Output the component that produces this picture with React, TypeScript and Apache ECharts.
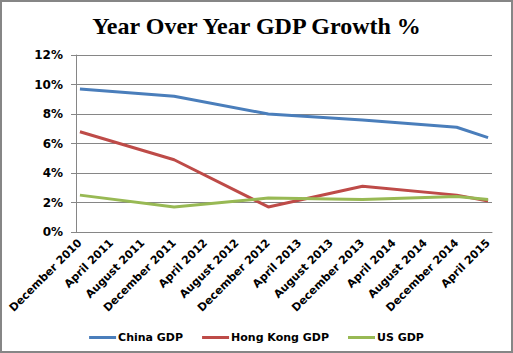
import React, { useEffect, useRef } from "react";
import * as echarts from "echarts";

const monthNames = ["January","February","March","April","May","June","July","August","September","October","November","December"];
// Monthly category axis from December 2010 to April 2015
const startYear = 2010, startMonth = 11; // December
const monthCount = 53;
const categories: string[] = [];
for (let i = 0; i < monthCount; i++) {
  const m = (startMonth + i) % 12;
  const y = startYear + Math.floor((startMonth + i) / 12);
  categories.push(`${monthNames[m]} ${y}`);
}

const obsDates = ["December 2010", "December 2011", "December 2012", "December 2013", "December 2014", "April 2015"];
const chinaGDP = [9.7, 9.2, 8.0, 7.6, 7.1, 6.4];
const hongKongGDP = [6.8, 4.9, 1.7, 3.1, 2.5, 2.1];
const usGDP = [2.5, 1.7, 2.3, 2.2, 2.4, 2.2];
const yTicks = [0, 2, 4, 6, 8, 10, 12];

function toSeries(vals: number[]) {
  const arr: (number | null)[] = categories.map(() => null);
  obsDates.forEach((d, i) => {
    const idx = categories.indexOf(d);
    if (idx >= 0) arr[idx] = vals[i];
  });
  return arr;
}

export default function App() {
  const ref = useRef<HTMLDivElement>(null);
  useEffect(() => {
    if (!ref.current) return;
    const chart = echarts.init(ref.current, null, { renderer: "svg" });
    const font = "DejaVu Sans";
    const lineSeries = (name: string, vals: number[], color: string) => ({
      name,
      type: "line",
      data: toSeries(vals),
      connectNulls: true,
      showSymbol: false,
      symbol: "none",
      lineStyle: { width: 3, color },
      itemStyle: { color },
    });
    chart.setOption({
      animation: false,
      backgroundColor: "#ffffff",
      title: {
        text: "Year Over Year GDP Growth %",
        left: "center",
        top: 9,
        textStyle: { fontFamily: "Liberation Serif", fontWeight: "bold", fontSize: 24, color: "#000" },
      },
      graphic: [
        {
          type: "rect",
          shape: { x: 1, y: 1, width: 511, height: 351 },
          style: { fill: "none", stroke: "#868686", lineWidth: 2 },
          z: 100,
        },
      ],
      legend: {
        left: "center",
        top: 327,
        icon: "rect",
        itemWidth: 27,
        itemHeight: 3,
        itemGap: 19,
        textStyle: { fontFamily: font, fontWeight: "bold", fontSize: 11, color: "#000", padding: [0, 0, 0, -3] },
        data: ["China GDP", "Hong Kong GDP", "US GDP"],
      },
      grid: { left: 76, right: 21, top: 55, bottom: 121 },
      xAxis: {
        type: "category",
        data: categories,
        boundaryGap: true,
        axisLine: { lineStyle: { color: "#868686", width: 1 } },
        axisTick: { interval: 3, length: 5, lineStyle: { color: "#868686" } },
        axisLabel: {
          interval: 3,
          rotate: 45,
          margin: 9,
          fontFamily: font,
          fontWeight: "bold",
          fontSize: 11,
          color: "#000",
        },
        splitLine: { show: false },
      },
      yAxis: {
        type: "value",
        min: yTicks[0],
        max: yTicks[yTicks.length - 1],
        interval: 2,
        axisLine: { show: true, lineStyle: { color: "#868686", width: 1 } },
        axisTick: { show: true, length: 5, lineStyle: { color: "#868686" } },
        axisLabel: {
          formatter: "{value}%",
          margin: 13,
          fontFamily: font,
          fontWeight: "bold",
          fontSize: 12,
          color: "#000",
        },
        splitLine: { lineStyle: { color: "#868686", width: 1 } },
      },
      series: [
        lineSeries("China GDP", chinaGDP, "#4a7ebb"),
        lineSeries("Hong Kong GDP", hongKongGDP, "#be4b48"),
        lineSeries("US GDP", usGDP, "#98b954"),
      ],
    });
    return () => chart.dispose();
  }, []);
  return (
    <div
      ref={ref}
      style={{ position: "absolute", left: 0, top: 0, width: 513, height: 353, background: "#fff" }}
    />
  );
}
